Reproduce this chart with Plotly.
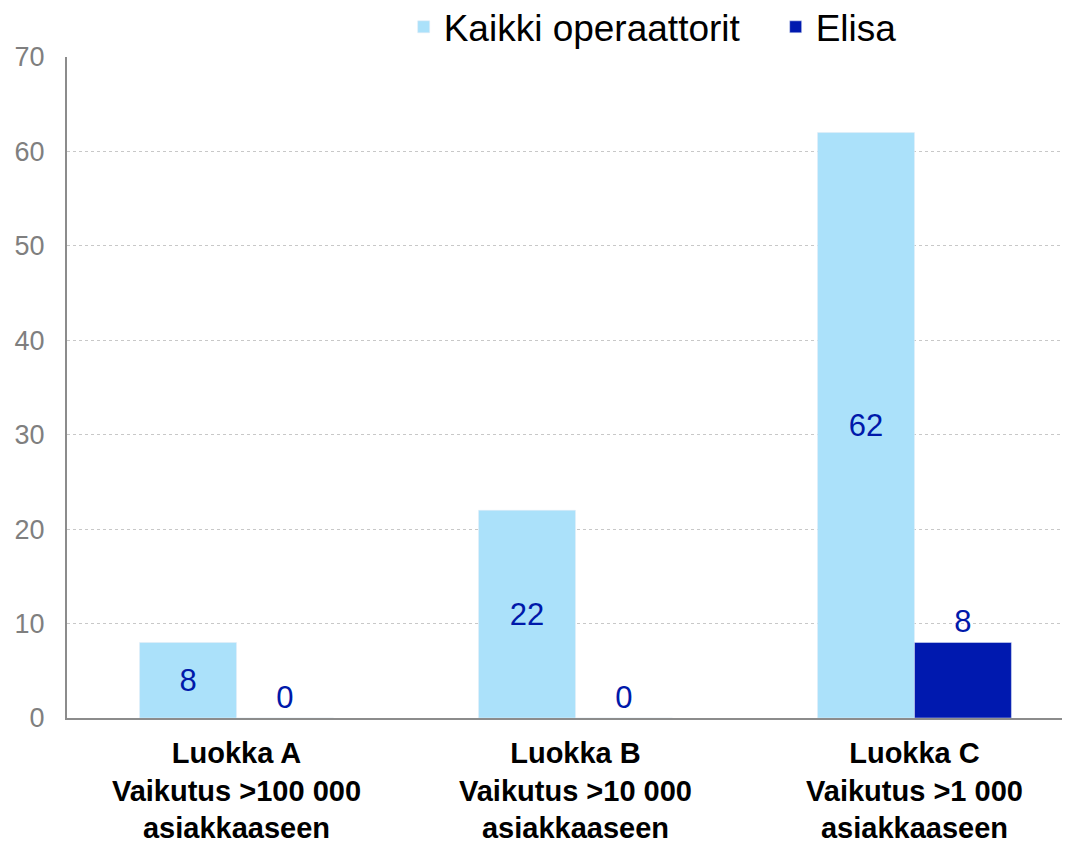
import plotly.graph_objects as go

categories = ["<b>Luokka A<br>Vaikutus >100 000<br>asiakkaaseen</b>",
              "<b>Luokka B<br>Vaikutus >10 000<br>asiakkaaseen</b>",
              "<b>Luokka C<br>Vaikutus >1 000<br>asiakkaaseen</b>"]
kaikki = [8, 22, 62]
elisa = [0, 0, 8]
y_ticks = [0, 10, 20, 30, 40, 50, 60, 70]

label_color = "#0019AA"

fig = go.Figure()
fig.add_trace(go.Bar(
    name="Kaikki operaattorit", x=categories, y=kaikki,
    marker_color="#ABE1FA", text=kaikki, textposition="inside",
    insidetextanchor="middle",
    textfont=dict(size=31, color=label_color),
))
fig.add_trace(go.Bar(
    name="Elisa", x=categories, y=elisa,
    marker_color="#0019AF", text=elisa, textposition="outside",
    textfont=dict(size=31, color=label_color),
))

fig.update_layout(
    width=1070, height=844,
    barmode="group", bargap=0.428, bargroupgap=0,
    plot_bgcolor="white", paper_bgcolor="white",
    font=dict(family="Liberation Sans, Arial", size=20),
    margin=dict(l=59, r=12, t=49, b=134, autoexpand=False),
    legend=dict(orientation="h", x=0.337, xanchor="left", y=1.045, yanchor="middle",
                font=dict(size=37, color="black"), itemwidth=30, traceorder="normal",
                entrywidth=327, entrywidthmode="pixels"),
)
fig.update_traces(cliponaxis=False, constraintext="none")
fig.update_xaxes(range=[-0.5, 2.447], showline=True, linecolor="#8c8c8c", linewidth=2,
                 tickfont=dict(size=29, color="black"), ticks="", automargin=False,
                 ticklabelstandoff=8)
fig.update_yaxes(range=[0, 70], tickvals=y_ticks, showgrid=True, gridcolor="#c8c8c8",
                 griddash="dot", showline=True, linecolor="#8c8c8c", linewidth=2,
                 tickfont=dict(size=27, color="#7f7f7f"), ticks="", zeroline=False,
                 automargin=False, ticklabelstandoff=15)

fig.write_html("out.html")
